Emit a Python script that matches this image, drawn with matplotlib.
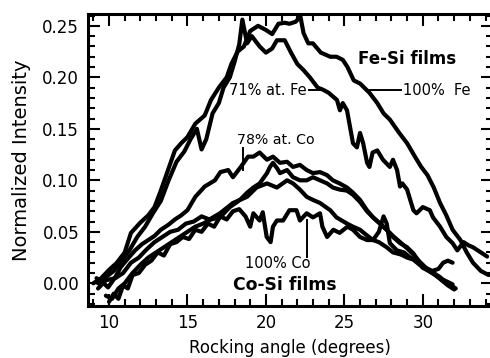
import matplotlib
matplotlib.use("Agg")
import matplotlib.pyplot as plt
from matplotlib.ticker import MultipleLocator

# rocking curves, normalized intensity vs angle (deg)
fe100_x = [9.0, 9.5, 10.0, 10.5, 11.0, 11.4, 12.0, 12.5, 12.9, 13.3, 13.6, 14.2, 14.6, 15.0, 15.5,
           16.1, 16.5, 17.0, 17.5, 17.8, 18.2, 18.6, 19.0, 19.5, 20.0, 20.4, 20.8, 21.2, 21.5, 21.9,
           22.2, 22.4, 22.7, 23.0, 23.5, 24.1, 24.5, 24.9, 25.2, 25.6, 26.0, 26.6, 27.1, 27.5, 27.9,
           28.5, 29.0, 29.5, 29.9, 30.3, 30.7, 31.1, 31.5, 31.9, 32.4, 32.8, 33.2, 33.7, 34.2]
fe100_y = [0.000, 0.005, 0.013, 0.020, 0.030, 0.049, 0.059, 0.066, 0.074, 0.090, 0.103, 0.129, 0.136, 0.142, 0.155,
           0.163, 0.178, 0.190, 0.200, 0.213, 0.225, 0.230, 0.245, 0.250, 0.246, 0.242, 0.252, 0.253, 0.252, 0.254,
           0.259, 0.243, 0.233, 0.233, 0.224, 0.220, 0.220, 0.217, 0.210, 0.197, 0.194, 0.185, 0.175, 0.165, 0.159,
           0.146, 0.136, 0.123, 0.113, 0.105, 0.093, 0.078, 0.066, 0.052, 0.042, 0.030, 0.020, 0.012, 0.008]

fe71_x = [9.3, 9.8, 10.3, 10.8, 11.3, 11.8, 12.3, 12.8, 13.3, 13.8, 14.3, 14.8, 15.2, 15.6, 15.9,
          16.2, 16.6, 17.0, 17.3, 17.7, 18.0, 18.3, 18.5, 18.8, 19.1, 19.6, 20.0, 20.4, 20.7, 21.2,
          21.6, 22.0, 22.4, 22.8, 23.3, 23.64, 24.0, 24.53, 24.72, 24.9, 25.17, 25.36, 25.55, 25.8, 26.0,
          26.2, 26.45, 26.6, 26.8, 27.1, 27.46, 27.9, 28.1, 28.36, 28.55, 28.7, 29.0, 29.2, 29.4, 29.6,
          30.0, 30.45, 30.65, 31.1, 31.5, 31.9, 32.2, 32.6, 32.9, 33.2, 33.6, 34.1]
fe71_y = [0.000, 0.006, 0.012, 0.022, 0.032, 0.045, 0.055, 0.068, 0.080, 0.100, 0.118, 0.128, 0.140, 0.150, 0.130,
          0.140, 0.165, 0.175, 0.190, 0.200, 0.215, 0.232, 0.256, 0.233, 0.240, 0.230, 0.224, 0.228, 0.236, 0.236,
          0.224, 0.213, 0.207, 0.200, 0.190, 0.188, 0.185, 0.178, 0.168, 0.175, 0.168, 0.152, 0.136, 0.132, 0.146,
          0.136, 0.117, 0.113, 0.127, 0.129, 0.120, 0.113, 0.120, 0.110, 0.094, 0.097, 0.091, 0.081, 0.071, 0.068,
          0.074, 0.071, 0.064, 0.055, 0.045, 0.039, 0.032, 0.040, 0.037, 0.035, 0.031, 0.026]

co78_x = [9.2, 9.6, 9.94, 10.4, 10.76, 11.2, 11.66, 12.1, 12.5, 12.9, 13.3, 13.8, 14.2, 14.6, 15.0,
          15.5, 16.1, 16.75, 17.1, 17.6, 17.9, 18.4, 18.86, 19.2, 19.6, 20.07, 20.45, 20.9, 21.35, 21.73,
          22.17, 22.6, 23.0, 23.45, 23.9, 24.27, 24.7, 25.17, 25.55, 26.0, 26.44, 26.83, 27.27, 27.7, 28.1,
          28.55, 29.0, 29.4, 29.8, 30.27, 30.7, 31.1, 31.5, 31.9]
co78_y = [0.005, 0.001, -0.004, 0.006, 0.016, 0.024, 0.032, 0.038, 0.042, 0.046, 0.052, 0.057, 0.062, 0.066, 0.071,
          0.084, 0.094, 0.100, 0.108, 0.110, 0.103, 0.113, 0.123, 0.123, 0.127, 0.120, 0.123, 0.117, 0.118, 0.113,
          0.115, 0.110, 0.107, 0.108, 0.105, 0.100, 0.097, 0.093, 0.088, 0.081, 0.071, 0.064, 0.058, 0.052, 0.045,
          0.039, 0.035, 0.029, 0.020, 0.013, 0.009, 0.005, 0.002, -0.001]

co_b_x = [9.8, 10.2, 10.6, 11.0, 11.5, 12.0, 12.5, 13.0, 13.5, 14.0, 14.5, 15.0, 15.5, 16.0, 16.5,
          17.07, 17.7, 18.35, 18.8, 19.2, 19.6, 20.07, 20.26, 20.45, 20.7, 20.9, 21.35, 21.73, 22.17, 22.6,
          23.0, 23.45, 23.9, 24.27, 24.7, 25.17, 25.55, 26.0, 26.44, 26.83, 27.27, 27.7, 28.1, 28.55, 29.0,
          29.4, 29.8, 30.27, 30.7, 31.1, 31.5, 31.9, 32.1]
co_b_y = [-0.012, -0.015, -0.005, 0.000, 0.010, 0.018, 0.025, 0.030, 0.035, 0.040, 0.045, 0.050, 0.055, 0.058, 0.062,
          0.064, 0.074, 0.081, 0.088, 0.093, 0.097, 0.107, 0.113, 0.117, 0.112, 0.107, 0.110, 0.103, 0.100, 0.100,
          0.103, 0.100, 0.097, 0.093, 0.091, 0.090, 0.086, 0.079, 0.070, 0.064, 0.058, 0.052, 0.046, 0.040, 0.034,
          0.028, 0.021, 0.014, 0.010, 0.006, 0.000, -0.003, -0.005]

co_c_x = [9.3, 9.8, 10.4, 10.9, 11.4, 11.9, 12.4, 12.9, 13.4, 13.9, 14.4, 14.9, 15.4, 15.9, 16.4,
          17.07, 17.9, 18.8, 19.4, 20.07, 20.7, 21.35, 21.73, 22.17, 22.6, 23.0, 23.45, 24.1, 24.5, 25.17,
          25.55, 26.0, 26.4, 26.83, 27.2, 27.7, 28.1, 28.6, 29.0, 29.4, 29.8, 30.2, 30.6, 31.0, 31.3,
          31.6, 31.9]
co_c_y = [-0.005, 0.003, 0.005, 0.010, 0.020, 0.025, 0.033, 0.040, 0.045, 0.050, 0.052, 0.058, 0.060, 0.065, 0.062,
          0.068, 0.078, 0.084, 0.093, 0.097, 0.093, 0.100, 0.097, 0.091, 0.084, 0.081, 0.078, 0.071, 0.064, 0.058,
          0.055, 0.052, 0.047, 0.042, 0.040, 0.035, 0.030, 0.028, 0.025, 0.023, 0.018, 0.015, 0.012, 0.014, 0.020,
          0.022, 0.020]

co100_x = [10.0, 10.3, 10.6, 10.9, 11.2, 11.5, 11.9, 12.3, 12.7, 13.1, 13.5, 13.9, 14.3, 14.7, 15.1,
           15.5, 15.9, 16.3, 16.7, 17.1, 17.5, 17.9, 18.3, 18.7, 19.0, 19.2, 19.6, 19.8, 20.05, 20.3,
           20.45, 20.7, 21.1, 21.5, 21.95, 22.17, 22.6, 23.0, 23.45, 23.6, 23.9, 24.3, 24.7, 25.2, 25.55,
           26.0, 26.45, 26.83, 27.2, 27.5, 27.7, 27.9, 28.35, 28.8, 29.2, 29.6, 30.0, 30.4, 30.8, 31.2,
           31.6, 32.0]
co100_y = [-0.018, -0.010, -0.015, -0.002, -0.005, 0.008, 0.010, 0.018, 0.022, 0.030, 0.027, 0.038, 0.040, 0.045, 0.043,
           0.052, 0.050, 0.058, 0.055, 0.065, 0.062, 0.070, 0.072, 0.065, 0.055, 0.068, 0.061, 0.069, 0.045, 0.040,
           0.055, 0.061, 0.061, 0.071, 0.071, 0.061, 0.068, 0.064, 0.068, 0.055, 0.045, 0.052, 0.049, 0.055, 0.052,
           0.045, 0.042, 0.042, 0.050, 0.065, 0.058, 0.039, 0.032, 0.030, 0.025, 0.022, 0.015, 0.012, 0.008, 0.003,
           -0.002, -0.006]

plt.rcParams['font.family'] = ['DejaVu Sans']

fig = plt.figure(figsize=(4.9, 3.58), dpi=100)
ax = fig.add_axes([0.1786, 0.1453, 0.828, 0.8156])

for xs, ys in [(fe100_x, fe100_y), (fe71_x, fe71_y), (co78_x, co78_y),
               (co_b_x, co_b_y), (co_c_x, co_c_y), (co100_x, co100_y)]:
    ax.plot(xs, ys, color='black', lw=3.0, solid_joinstyle='round', solid_capstyle='round')

ax.set_xlim(8.63, 34.49)
ax.set_ylim(-0.022, 0.2615)
ax.xaxis.set_major_locator(MultipleLocator(5))
ax.xaxis.set_minor_locator(MultipleLocator(1))
ax.yaxis.set_major_locator(MultipleLocator(0.05))
ax.yaxis.set_minor_locator(MultipleLocator(0.01))
ax.yaxis.set_major_formatter(plt.FuncFormatter(lambda v, p: f"{v:.2f}"))
ax.tick_params(which='both', direction='in', top=True, right=True, width=1.5, labelsize=12)
ax.tick_params(which='major', length=8.5, pad=6)
ax.tick_params(which='minor', length=5)
for s in ax.spines.values():
    s.set_linewidth(2.2)

ax.set_xlabel("Rocking angle (degrees)", fontsize=12, labelpad=5)
ax.set_ylabel("Normalized Intensity", fontsize=14, labelpad=8)

# labels and leader lines
ax.text(22.62, 0.1877, "71% at. Fe", fontsize=10.5, ha='right', va='center')
ax.plot([22.75, 23.64], [0.1877, 0.1877], color='black', lw=1.4)
ax.text(28.74, 0.1877, "100%  Fe", fontsize=10.5, ha='left', va='center')
ax.plot([26.63, 28.61], [0.1877, 0.1877], color='black', lw=1.4)
ax.text(25.87, 0.213, "Fe-Si films", fontsize=12, fontweight='bold', ha='left', va='baseline')

ax.text(18.16, 0.139, "78% at. Co", fontsize=10.2, ha='left', va='center')
ax.plot([18.54, 18.54], [0.1314, 0.110], color='black', lw=1.4)
ax.text(18.67, 0.0197, "100% Co", fontsize=10.5, ha='left', va='center')
ax.plot([22.62, 22.62], [0.0255, 0.0615], color='black', lw=1.4)
ax.text(17.9, -0.0065, "Co-Si films", fontsize=12.4, fontweight='bold', ha='left', va='baseline')

fig.savefig("out.png", dpi=100)
